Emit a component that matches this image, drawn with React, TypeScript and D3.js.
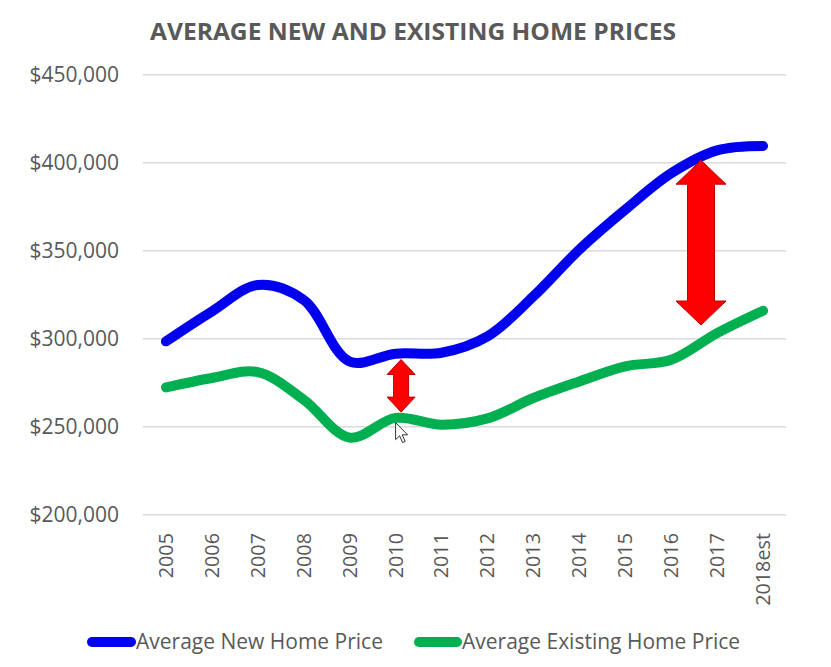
import React from 'react';
import * as d3 from 'd3';

const categories = ['2005', '2006', '2007', '2008', '2009', '2010', '2011', '2012', '2013', '2014', '2015', '2016', '2017', '2018est'];
const newHomePrices = [298500, 315500, 330500, 322000, 287000, 291500, 292000, 301300, 324000, 350600, 373300, 394000, 407000, 409500];
const existingHomePrices = [272300, 277700, 281000, 265300, 243800, 255000, 251100, 254700, 266300, 275700, 284300, 288000, 303200, 315900];
const yTicks = [200000, 250000, 300000, 350000, 400000, 450000];
const seriesNames = ['Average New Home Price', 'Average Existing Home Price'];
const seriesColors = ['#0000ee', '#00b050'];
const titleText = 'AVERAGE NEW AND EXISTING HOME PRICES';
// gap annotations: position as fractional category index, value range
const gapArrows = [
  { at: 5.12, from: 258300, to: 288200, headW: 14, shaftW: 7.5, headL: 15 },
  { at: 11.65, from: 307800, to: 401400, headW: 25, shaftW: 13.5, headL: 24 },
];

const W = 831;
const H = 667;
const FONT = '"Open Sans", "Noto Sans", sans-serif';
const GREY = '#595959';

export default function App() {
  const x = d3.scaleBand<string>().domain(categories).range([143, 786]);
  const bw = x.bandwidth();
  const cx = (c: string) => (x(c) as number) + bw / 2;
  const xi = d3.scaleLinear().domain([0, categories.length - 1]).range([cx(categories[0]), cx(categories[categories.length - 1])]);
  const y = d3.scaleLinear().domain([200000, 450000]).range([514.7, 74.7]);
  const fmt = d3.format('$,');

  const line = d3
    .line<number>()
    .x((_, i) => cx(categories[i]))
    .y((d) => y(d))
    .curve(d3.curveCatmullRom.alpha(0.5));

  const series = [newHomePrices, existingHomePrices];

  const arrowPath = (a: typeof gapArrows[number]) => {
    const c = xi(a.at);
    const top = y(a.to);
    const bot = y(a.from);
    const hw = a.headW;
    const sw = a.shaftW;
    const hl = a.headL;
    return [
      [c, top],
      [c + hw, top + hl],
      [c + sw, top + hl],
      [c + sw, bot - hl],
      [c + hw, bot - hl],
      [c, bot],
      [c - hw, bot - hl],
      [c - sw, bot - hl],
      [c - sw, top + hl],
      [c - hw, top + hl],
    ]
      .map((p, i) => (i === 0 ? 'M' : 'L') + p[0].toFixed(1) + ',' + p[1].toFixed(1))
      .join('') + 'Z';
  };

  const cursorTip = [xi(5.0), y(252300)];
  const cursorPts = [
    [0, 0], [0, 17], [4, 13.2], [7, 20], [9.6, 18.8], [6.6, 12.2], [12, 12.2],
  ];

  return (
    <div style={{ position: 'fixed', left: 0, top: 0, width: W, height: H, background: '#fff' }}>
      <svg width={W} height={H} viewBox={`0 0 ${W} ${H}`} style={{ display: 'block' }}>
        <rect x={0} y={0} width={W} height={H} fill="#ffffff" />
        <text
          x={150}
          y={40}
          textLength={526}
          lengthAdjust="spacingAndGlyphs"
          fontFamily={FONT}
          fontWeight={700}
          fontSize={23}
          fill={GREY}
        >
          {titleText}
        </text>
        {yTicks.map((t) => (
          <g key={t}>
            <line x1={143} x2={786} y1={y(t)} y2={y(t)} stroke="#d9d9d9" strokeWidth={1.5} />
            <text x={119} y={y(t)} dy="0.35em" textAnchor="end" fontFamily={FONT} fontSize={21} fill={GREY}>
              {fmt(t)}
            </text>
          </g>
        ))}
        {categories.map((c) => (
          <text
            key={c}
            transform={`translate(${cx(c)},533) rotate(-90)`}
            dy="0.35em"
            textAnchor="end"
            fontFamily={FONT}
            fontSize={19.8}
            fill={GREY}
          >
            {c}
          </text>
        ))}
        {series.map((s, i) => (
          <path
            key={seriesNames[i]}
            d={line(s) as string}
            fill="none"
            stroke={seriesColors[i]}
            strokeWidth={10}
            strokeLinecap="round"
            strokeLinejoin="round"
          />
        ))}
        {gapArrows.map((a, i) => (
          <path key={i} d={arrowPath(a)} fill="#ff0000" stroke="#c00000" strokeWidth={1} strokeLinejoin="miter" />
        ))}
        <polygon
          points={cursorPts.map((p) => `${cursorTip[0] + p[0]},${cursorTip[1] + p[1]}`).join(' ')}
          fill="#ffffff"
          stroke="#333333"
          strokeWidth={1}
          strokeLinejoin="miter"
        />
        {/* legend */}
        <g>
          <line x1={92} x2={131} y1={642} y2={642} stroke={seriesColors[0]} strokeWidth={10} strokeLinecap="round" />
          <text x={136} y={642} dy="0.35em" fontFamily={FONT} fontSize={21} fill={GREY}>
            {seriesNames[0]}
          </text>
          <line x1={419} x2={457} y1={642} y2={642} stroke={seriesColors[1]} strokeWidth={10} strokeLinecap="round" />
          <text x={462} y={642} dy="0.35em" fontFamily={FONT} fontSize={21} fill={GREY}>
            {seriesNames[1]}
          </text>
        </g>
      </svg>
    </div>
  );
}
